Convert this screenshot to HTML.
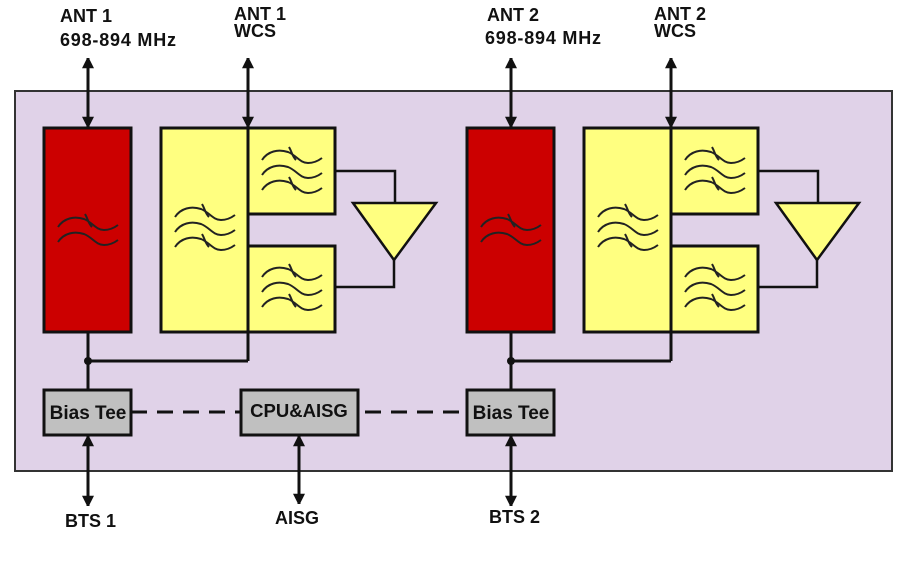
<!DOCTYPE html>
<html><head><meta charset="utf-8"><style>
html,body{margin:0;padding:0;background:#fff;}
svg{display:block;}
text{font-family:"Liberation Sans",Arial,sans-serif;font-weight:bold;fill:#111;}
</style></head><body>
<svg width="914" height="577" viewBox="0 0 914 577" xmlns="http://www.w3.org/2000/svg">
<defs>
<marker id="ah" viewBox="0 0 10 14" refX="12" refY="7" markerWidth="3.6" markerHeight="4" orient="auto-start-reverse" markerUnits="strokeWidth">
<path d="M0,0 L14,7 L0,14 z" fill="#111"/></marker>
<path id="wv" d="M0,10 C6,1 16,-1 26,2 C34,5 38,13 46,13 C52,13 56,11 60,8" fill="none" stroke="#222" stroke-width="2"/>
<g id="wx"><use href="#wv"/><path d="M27,-3 C30,2 30,6 34,10" fill="none" stroke="#222" stroke-width="2"/></g>
<g id="tri">
<use href="#wx"/>
<use href="#wv" transform="translate(0,15)"/>
<use href="#wx" transform="translate(0,30)"/>
</g>
<g id="half">
<rect x="44" y="128" width="87" height="204" fill="#cc0000" stroke="#111" stroke-width="3"/>
<g transform="translate(58,217)"><use href="#wx"/><use href="#wv" transform="translate(0,15)"/></g>
<rect x="161" y="128" width="87" height="204" fill="#ffff80" stroke="#111" stroke-width="3"/>
<rect x="248" y="128" width="87" height="86" fill="#ffff80" stroke="#111" stroke-width="3"/>
<rect x="248" y="246" width="87" height="86" fill="#ffff80" stroke="#111" stroke-width="3"/>
<line x1="248" y1="128" x2="248" y2="361" stroke="#111" stroke-width="3"/>
<use href="#tri" transform="translate(175,207)"/>
<use href="#tri" transform="translate(262,150)"/>
<use href="#tri" transform="translate(262,267)"/>
<polyline points="335,171 395,171 395,203" fill="none" stroke="#111" stroke-width="2.5"/>
<polyline points="335,287 394,287 394,260" fill="none" stroke="#111" stroke-width="2.5"/>
<polygon points="353,203 436,203 394,260" fill="#ffff80" stroke="#111" stroke-width="2.5"/>
<polyline points="88,332 88,390" fill="none" stroke="#111" stroke-width="3"/>
<polyline points="88,361 248,361" fill="none" stroke="#111" stroke-width="3"/>
<circle cx="88" cy="361" r="4" fill="#111"/>
<rect x="44" y="390" width="87" height="45" fill="#c0c0c0" stroke="#111" stroke-width="3"/>
<text x="88" y="419" font-size="19" text-anchor="middle">Bias Tee</text>
<line x1="88" y1="58" x2="88" y2="127" stroke="#111" stroke-width="3" marker-start="url(#ah)" marker-end="url(#ah)"/>
<line x1="248" y1="58" x2="248" y2="127" stroke="#111" stroke-width="3" marker-start="url(#ah)" marker-end="url(#ah)"/>
<line x1="88" y1="436" x2="88" y2="506" stroke="#111" stroke-width="3" marker-start="url(#ah)" marker-end="url(#ah)"/>
</g>
</defs>
<rect x="15" y="91" width="877" height="380" fill="#e0d2e8" stroke="#333" stroke-width="2"/>
<line x1="131" y1="412" x2="467" y2="412" stroke="#111" stroke-width="3" stroke-dasharray="16,10"/>
<use href="#half"/>
<use href="#half" transform="translate(423,0)"/>
<rect x="241" y="390" width="117" height="45" fill="#c0c0c0" stroke="#111" stroke-width="3"/>
<text x="299" y="417" font-size="18.5" text-anchor="middle">CPU&amp;AISG</text>
<line x1="299" y1="436" x2="299" y2="504" stroke="#111" stroke-width="3" marker-start="url(#ah)" marker-end="url(#ah)"/>
<g font-size="18">
<text x="60" y="22">ANT 1</text>
<text x="60" y="46" textLength="116">698-894 MHz</text>
<text x="234" y="20">ANT 1</text>
<text x="234" y="37">WCS</text>
<text x="487" y="21">ANT 2</text>
<text x="485" y="44" textLength="116">698-894 MHz</text>
<text x="654" y="20">ANT 2</text>
<text x="654" y="37">WCS</text>
<text x="65" y="527">BTS 1</text>
<text x="275" y="524">AISG</text>
<text x="489" y="523">BTS 2</text>
</g>
</svg>
</body></html>
